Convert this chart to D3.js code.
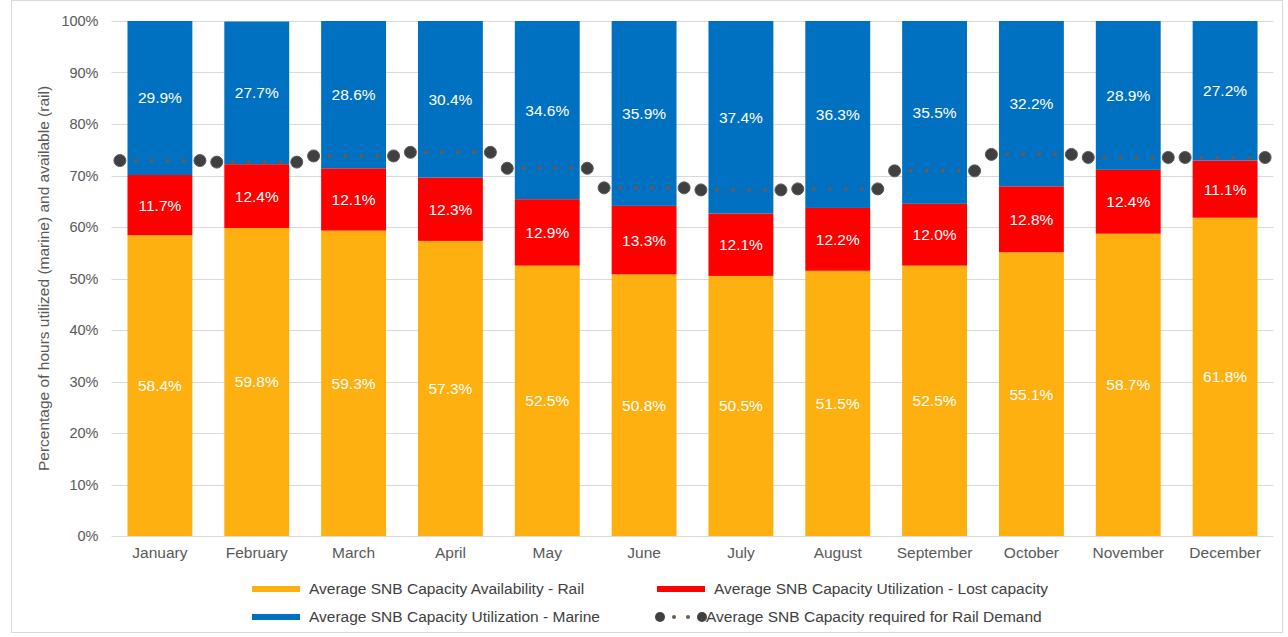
<!DOCTYPE html>
<html>
<head>
<meta charset="utf-8">
<script src="https://cdn.jsdelivr.net/npm/d3@7"></script>
<style>
  body { margin: 0; background: #ffffff; }
  svg { display: block; font-family: "Liberation Sans", Arial, sans-serif; }
</style>
</head>
<body>
<svg id="chart" width="1288" height="637"></svg>
<script>
// Monthly SNB capacity shares (percent)
const months = ["January", "February", "March", "April", "May", "June",
                "July", "August", "September", "October", "November", "December"];
const railAvailable = [58.4, 59.8, 59.3, 57.3, 52.5, 50.8, 50.5, 51.5, 52.5, 55.1, 58.7, 61.8];
const lostCapacity  = [11.7, 12.4, 12.1, 12.3, 12.9, 13.3, 12.1, 12.2, 12.0, 12.8, 12.4, 11.1];
const marineUsed    = [29.9, 27.7, 28.6, 30.4, 34.6, 35.9, 37.4, 36.3, 35.5, 32.2, 28.9, 27.2];
const railDemand    = [72.9, 72.6, 73.8, 74.5, 71.4, 67.6, 67.2, 67.4, 70.9, 74.1, 73.5, 73.5];
const yTicks = [0, 10, 20, 30, 40, 50, 60, 70, 80, 90, 100];

const seriesNames = [
  "Average SNB Capacity Availability - Rail",
  "Average SNB Capacity Utilization - Lost capacity",
  "Average SNB Capacity Utilization - Marine",
  "Average SNB Capacity required for Rail Demand"
];
const colors = { rail: "#FDB010", lost: "#FF0000", marine: "#0070C0", demand: "#404040", demandDot: "#6b5b4e" };

const svg = d3.select("#chart");
const plot = { left: 111.5, right: 1273.5, top: 21, bottom: 536 };

// Chart frame
svg.append("rect")
  .attr("x", 11.5).attr("y", 0.5).attr("width", 1271).attr("height", 632)
  .attr("fill", "none").attr("stroke", "#d9d9d9");

const x = d3.scaleBand().domain(months).range([plot.left, plot.right]).paddingInner(0.33).paddingOuter(0.165);
const y = d3.scaleLinear().domain([0, 100]).range([plot.bottom, plot.top]);

// Gridlines
svg.append("g").selectAll("line").data(yTicks.filter(t => t > 0)).join("line")
  .attr("x1", plot.left).attr("x2", plot.right)
  .attr("y1", d => Math.round(y(d)) + 0.5).attr("y2", d => Math.round(y(d)) + 0.5)
  .attr("stroke", "#d9d9d9").attr("stroke-width", 1);

// Y axis
const yAxis = svg.append("g").attr("transform", `translate(${plot.left},0)`)
  .call(d3.axisLeft(y).tickValues(yTicks).tickFormat(d => d + "%").tickSize(0).tickPadding(13));
yAxis.select(".domain").remove();
yAxis.selectAll("text").attr("fill", "#595959").style("font-size", "14.5px");

// Stacked data
const rows = months.map((m, i) => ({ month: m, rail: railAvailable[i], lost: lostCapacity[i], marine: marineUsed[i] }));
const stack = d3.stack().keys(["rail", "lost", "marine"]);
const layers = stack(rows);

svg.append("g").selectAll("g").data(layers).join("g")
  .attr("fill", d => colors[d.key])
  .selectAll("rect").data(d => d).join("rect")
  .attr("x", d => x(d.data.month))
  .attr("width", x.bandwidth())
  .attr("y", d => y(Math.min(d[1], 100)))
  .attr("height", d => y(d[0]) - y(Math.min(d[1], 100)));

// Segment value labels
const labelG = svg.append("g").attr("fill", "#ffffff").style("font-size", "15.5px").attr("text-anchor", "middle");
layers.forEach(layer => {
  labelG.selectAll(null).data(layer).join("text")
    .attr("x", d => x(d.data.month) + x.bandwidth() / 2)
    .attr("y", d => y((d[0] + Math.min(d[1], 100)) / 2))
    .attr("dy", "0.35em")
    .text(d => d.data[layer.key].toFixed(1) + "%");
});

// X axis baseline and labels
svg.append("line").attr("x1", plot.left).attr("x2", plot.right)
  .attr("y1", plot.bottom + 0.5).attr("y2", plot.bottom + 0.5).attr("stroke", "#d9d9d9");
const xAxis = svg.append("g").attr("transform", `translate(0,${plot.bottom})`)
  .call(d3.axisBottom(x).tickSize(0).tickPadding(11));
xAxis.select(".domain").remove();
xAxis.selectAll("text").attr("fill", "#595959").style("font-size", "15.5px");

// Rail demand markers: dotted segment across each month with end dots
const halfSpan = 40;
const demandG = svg.append("g");
months.forEach((m, i) => {
  const cx = x(m) + x.bandwidth() / 2;
  const cy = y(railDemand[i]);
  demandG.append("line")
    .attr("x1", cx - halfSpan).attr("x2", cx + halfSpan)
    .attr("y1", cy).attr("y2", cy)
    .attr("stroke", colors.demandDot).attr("stroke-width", 4)
    .attr("stroke-linecap", "round").attr("stroke-dasharray", "0 16");
  [cx - halfSpan, cx + halfSpan].forEach(px => {
    demandG.append("circle").attr("cx", px).attr("cy", cy).attr("r", 6)
      .attr("fill", colors.demand).attr("stroke", "#5a5a5a").attr("stroke-width", 1);
  });
});

// Y axis title
svg.append("text")
  .attr("transform", `translate(49,${(plot.top + plot.bottom) / 2}) rotate(-90)`)
  .attr("text-anchor", "middle").attr("fill", "#595959").style("font-size", "15.5px")
  .text("Percentage of hours utilized (marine) and available (rail)");

// Legend
const legend = svg.append("g").style("font-size", "15.5px").attr("fill", "#404040");
const legendItems = [
  { name: seriesNames[0], color: colors.rail, x: 252, y: 589, type: "bar" },
  { name: seriesNames[1], color: colors.lost, x: 657, y: 589, type: "bar" },
  { name: seriesNames[2], color: colors.marine, x: 252, y: 617, type: "bar" },
  { name: seriesNames[3], color: colors.demand, x: 660, y: 617, type: "dots" }
];
legendItems.forEach(it => {
  if (it.type === "bar") {
    legend.append("rect").attr("x", it.x).attr("y", it.y - 3).attr("width", 48).attr("height", 6).attr("fill", it.color);
    legend.append("text").attr("x", it.x + 57).attr("y", it.y).attr("dy", "0.35em").text(it.name);
  } else {
    legend.append("line").attr("x1", it.x).attr("x2", it.x + 42).attr("y1", it.y).attr("y2", it.y)
      .attr("stroke", colors.demandDot).attr("stroke-width", 4).attr("stroke-linecap", "round")
      .attr("stroke-dasharray", "0 14");
    [it.x, it.x + 42].forEach(px => legend.append("circle").attr("cx", px).attr("cy", it.y).attr("r", 5).attr("fill", colors.demand));
    legend.append("text").attr("x", it.x + 46).attr("y", it.y).attr("dy", "0.35em").text(it.name);
  }
});
</script>
</body>
</html>
